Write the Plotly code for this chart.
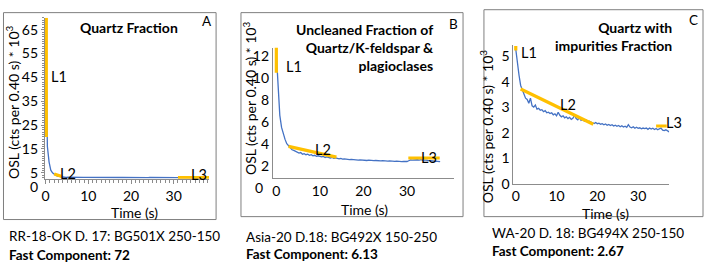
import plotly.graph_objects as go

W, H = 705, 280
CH = 0.4  # channel width in seconds

# ---------------- data ----------------
a_osl = [69, 16, 9.5, 6.1, 5.0, 4.3, 3.9, 3.55, 3.4, 3.3, 3.15, 3.12, 3.1, 3.12, 3.08, 3.1,
         3.07, 3.1, 3.06, 3.08, 3.05, 3.07, 3.05, 3.06, 3.04, 3.06, 3.03, 3.05, 3.04, 3.05,
         3.03, 3.04, 3.02, 3.04, 3.03, 3.04, 3.02, 3.03, 3.02, 3.04, 3.02, 3.03, 3.01, 3.03,
         3.02, 3.03, 3.01, 3.02, 3.01, 3.03, 3.01, 3.02, 3.0, 3.02, 3.01, 3.02, 3.0, 3.02,
         3.0, 3.01, 3.0, 3.02, 3.0, 3.01, 3.0, 3.01, 2.99, 3.01, 3.0, 3.01, 2.99, 3.0, 2.99,
         3.01, 2.99, 3.0, 2.99, 3.0, 2.99, 3.0, 2.98, 3.0, 2.99, 3.0, 2.98, 2.99, 2.98, 3.0,
         2.98, 2.99, 2.98, 2.99, 2.98, 2.99, 2.98]

b_osl = [12.2, 9.0, 6.6, 5.5, 4.8, 4.4, 4.0, 3.8, 3.6, 3.45, 3.4, 3.3, 3.25, 3.15, 3.2,
         3.05, 3.1, 3.0, 3.05, 2.95, 3.0, 2.9, 2.95, 2.85, 2.9, 2.85, 2.8, 2.85, 2.75, 2.8,
         2.75, 2.7, 2.75, 2.68, 2.7, 2.65, 2.62, 2.66, 2.6, 2.62, 2.58, 2.6, 2.55, 2.58, 2.55,
         2.52, 2.55, 2.5, 2.53, 2.5, 2.48, 2.5, 2.47, 2.5, 2.46, 2.48, 2.45, 2.47, 2.44, 2.46,
         2.43, 2.45, 2.42, 2.44, 2.41, 2.43, 2.4, 2.42, 2.39, 2.41, 2.38, 2.4, 2.37, 2.39,
         2.36, 2.38, 2.45, 2.52, 2.5, 2.53, 2.5, 2.54, 2.51, 2.55, 2.5, 2.53, 2.5, 2.47, 2.45,
         2.47, 2.43, 2.4, 2.42, 2.38, 2.37]

c_osl = [5.27, 4.7, 4.25, 3.85, 3.68, 3.5, 3.35, 3.3, 3.15, 3.35, 3.05, 3.0, 3.08, 2.92,
         2.95, 2.88, 2.9, 2.82, 2.86, 2.78, 2.8, 2.75, 2.78, 2.7, 2.74, 2.66, 2.8, 2.68, 2.62,
         2.66, 2.58, 2.62, 2.55, 2.6, 2.52, 2.56, 2.68, 2.55, 2.5, 2.6, 2.48, 2.52, 2.45, 2.5,
         2.42, 2.45, 2.4, 2.38, 2.36, 2.4, 2.35, 2.37, 2.33, 2.35, 2.31, 2.34, 2.29, 2.32,
         2.28, 2.31, 2.26, 2.29, 2.25, 2.28, 2.23, 2.27, 2.22, 2.25, 2.21, 2.31, 2.22, 2.19,
         2.23, 2.17, 2.21, 2.17, 2.19, 2.15, 2.18, 2.16, 2.18, 2.13, 2.18, 2.14, 2.17, 2.12,
         2.16, 2.11, 2.15, 2.18, 2.1, 2.08, 2.11, 2.05, 2.03]

# fitted segments L1, L2, L3 (time, value) separated by None
a_fit_t = [0.15, 0.15, None, 2.0, 3.8, None, 31.0, 38.3]
a_fit_v = [70, 20, None, 4.5, 3.4, None, 2.95, 2.95]
b_fit_t = [0.0, 0.0, None, 2.8, 13.8, None, 30.3, 37.5]
b_fit_v = [12.8, 10.5, None, 3.76, 2.78, None, 2.7, 2.7]
c_fit_t = [0.0, 0.0, None, 1.2, 19.0, None, 34.4, 37.0]
c_fit_v = [5.4, 5.22, None, 3.71, 2.33, None, 2.26, 2.26]

x_ticks = [0, 10, 20, 30]
a_y_ticks = [5, 15, 25, 35, 45, 55, 65]
b_y_ticks = [2, 4, 6, 8, 10, 12]
c_y_ticks = [0, 1, 2, 3, 4, 5]

titles = ["<b>Quartz Fraction</b>",
          "<b>Uncleaned Fraction of<br>Quartz/K-feldspar &<br>plagioclases</b>",
          "<b>Quartz with<br>impurities Fraction</b>"]
samples = ["RR-18-OK D. 17: BG501X 250-150", "Asia-20 D.18: BG492X 150-250",
           "WA-20 D. 18: BG494X 250-150"]
fast = ["72", "6.13", "2.67"]
letters = ["A", "B", "C"]

FONT = "Lato"
FS = 13.5
BLUE = "#4472C4"
GOLD = "#FFC000"
AXC = "#8C8C8C"


def times(vals):
    return [round(i * CH, 2) for i in range(len(vals))]


def px(x):
    return x / W


def py(y):
    return 1 - y / H


fig = go.Figure()
for i, (osl, ft, fv) in enumerate([(a_osl, a_fit_t, a_fit_v),
                                    (b_osl, b_fit_t, b_fit_v),
                                    (c_osl, c_fit_t, c_fit_v)]):
    xa = "x" if i == 0 else f"x{i+1}"
    ya = "y" if i == 0 else f"y{i+1}"
    fig.add_trace(go.Scatter(x=times(osl), y=osl, mode="lines", xaxis=xa, yaxis=ya,
                             line=dict(color=BLUE, width=1.3), showlegend=False))
    fig.add_trace(go.Scatter(x=ft, y=fv, mode="lines", xaxis=xa, yaxis=ya,
                             line=dict(color=GOLD, width=3.2), showlegend=False))

# panel geometry in pixels: plot-area left, right, top, bottom
geo = [
    dict(l=42, r=207, t=18.2, b=184, xr=[-0.2, 38.3], yr=[2.5, 70], yt=a_y_ticks),
    dict(l=271, r=453, t=49, b=183, xr=[-0.8, 40.8], yr=[0.89, 12.8], yt=b_y_ticks),
    dict(l=512.5, r=669, t=46, b=189, xr=[-0.6, 37.6], yr=[0, 5.45], yt=c_y_ticks),
]

tickfont = dict(family=FONT, size=14, color="#000")
for i, g in enumerate(geo):
    sx = "xaxis" if i == 0 else f"xaxis{i+1}"
    sy = "yaxis" if i == 0 else f"yaxis{i+1}"
    yname = "y" if i == 0 else f"y{i+1}"
    xname = "x" if i == 0 else f"x{i+1}"
    xa = dict(domain=[px(g["l"]), px(g["r"])], range=g["xr"], anchor=yname,
              tickmode="array", tickvals=x_ticks, showgrid=False, zeroline=False,
              showline=True, linecolor=AXC, linewidth=1, tickfont=tickfont)
    ya = dict(domain=[py(g["b"]), py(g["t"])], range=g["yr"], anchor=xname,
              tickmode="array", tickvals=g["yt"], showgrid=False, zeroline=False,
              showline=True, linecolor=AXC, linewidth=1, tickfont=tickfont)
    if i == 0:
        xa.update(ticks="outside", ticklen=4, tickcolor=AXC,
                  minor=dict(dtick=1, tick0=0, ticks="outside", ticklen=3, tickcolor=AXC))
        ya.update(ticks="outside", ticklen=3, tickcolor=AXC,
                  minor=dict(dtick=1, tick0=0, ticks="outside", ticklen=2, tickcolor=AXC))
    else:
        xa.update(ticks="")
        ya.update(ticks="")
    fig.layout[sx] = xa
    fig.layout[sy] = ya

# frames
frames = [(0.5, 13, 214, 226), (239, 13, 462, 223), (483, 10, 703, 223)]
for (x0, y0, x1, y1) in frames:
    fig.add_shape(type="rect", xref="paper", yref="paper",
                  x0=px(x0), x1=px(x1), y0=py(y0), y1=py(y1),
                  line=dict(color="#7F7F7F", width=1))

ann = []


def text(x, y, s, xanchor="left", yanchor="middle", size=FS, angle=0, align="left"):
    ann.append(dict(x=px(x), y=py(y), xref="paper", yref="paper", text=s, showarrow=False,
                    xanchor=xanchor, yanchor=yanchor, align=align, textangle=angle,
                    font=dict(family=FONT, size=size, color="#000")))


# titles
text(127, 28, titles[0], xanchor="center", size=14)
text(435, 49, titles[1], xanchor="right", align="right", size=14)
text(674, 37.5, titles[2], xanchor="right", align="right", size=14)
# panel letters
text(205, 22, letters[0], xanchor="center")
text(452, 25, letters[1], xanchor="center")
text(693, 21, letters[2], xanchor="center")
# axis titles
ytitle = "OSL (cts per 0.40 s) * 10<sup>3</sup>"
for (x, y) in [(9, 105), (247, 101), (485, 130)]:
    text(x, y, ytitle, xanchor="center", angle=-90, size=14)
for (x, y) in [(132, 218.5), (363, 216), (605, 219.5)]:
    text(x, y, "Time (s)", xanchor="center", size=14)
# zero labels that sit below the visible axis range
text(37, 192, "0", xanchor="right", size=14)
text(263, 193, "0", xanchor="right", size=14)
# L labels
for (x, y, s) in [(46, 79, "L1"), (55, 179, "L2"), (187, 180, "L3"),
                  (282, 68, "L1"), (311, 154, "L2"), (418, 162, "L3"),
                  (518, 54, "L1"), (557, 108, "L2"), (664, 126, "L3")]:
    text(x, y, s, size=14.5)
# sample captions
for (x, y1, y2, s, f) in [(4, 243, 262, samples[0], fast[0]),
                          (242, 244, 261, samples[1], fast[1]),
                          (489, 240, 258, samples[2], fast[2])]:
    text(x, y1, s)
    text(x, y2, "<b>Fast Component: " + f + "</b>")

fig.update_layout(width=W, height=H, margin=dict(l=0, r=0, t=0, b=0),
                  paper_bgcolor="white", plot_bgcolor="white",
                  annotations=ann, font=dict(family=FONT, size=FS, color="#000"))

fig.write_html("out.html", config={"displayModeBar": False},
               post_script="document.body.style.margin='0px';")
